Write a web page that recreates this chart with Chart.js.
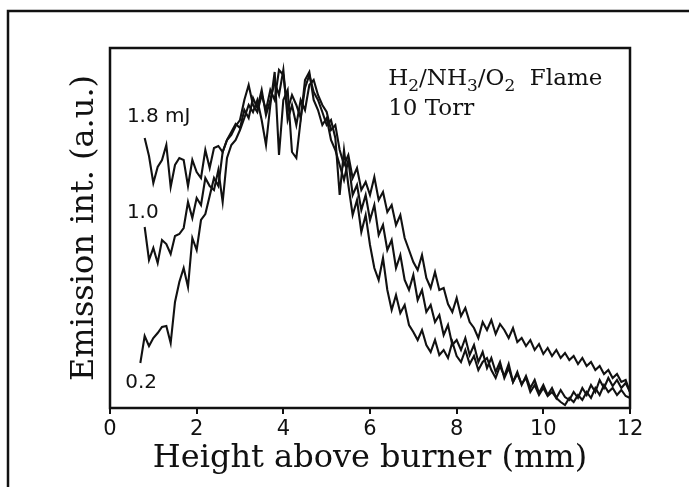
<!DOCTYPE html>
<html><head><meta charset="utf-8">
<script src="https://cdn.jsdelivr.net/npm/chart.js@4.4.1/dist/chart.umd.min.js"></script>
<style>html,body{margin:0;padding:0;background:#fff;} #wrap{width:689px;height:487px;}</style>
</head><body>
<div id="wrap"><canvas id="c" width="689" height="487"></canvas></div>
<script>
// ---- data (height in mm, emission in arbitrary units) ----
const heights = [
 0.7,0.8,0.9,1.0,1.1,1.2,1.3,1.4,1.5,1.6,
 1.7,1.8,1.9,2.0,2.1,2.2,2.3,2.4,2.5,2.6,
 2.7,2.8,2.9,3.0,3.1,3.2,3.3,3.4,3.5,3.6,
 3.7,3.8,3.9,4.0,4.1,4.2,4.3,4.4,4.5,4.6,
 4.7,4.8,4.9,5.0,5.1,5.2,5.3,5.4,5.5,5.6,
 5.7,5.8,5.9,6.0,6.1,6.2,6.3,6.4,6.5,6.6,
 6.7,6.8,6.9,7.0,7.1,7.2,7.3,7.4,7.5,7.6,
 7.7,7.8,7.9,8.0,8.1,8.2,8.3,8.4,8.5,8.6,
 8.7,8.8,8.9,9.0,9.1,9.2,9.3,9.4,9.5,9.6,
 9.7,9.8,9.9,10.0,10.1,10.2,10.3,10.4,10.5,10.6,
 10.7,10.8,10.9,11.0,11.1,11.2,11.3,11.4,11.5,11.6,
 11.7,11.8,11.9,12.0
];
const emission18 = [
 null,270,252,225,241,248,263,221,243,250,
 248,222,248,236,230,258,240,260,262,256,
 268,273,282,288,308,323,303,296,313,298,
 318,308,338,333,298,313,303,290,320,333,
 316,308,296,283,288,270,213,258,223,193,
 208,176,193,163,140,128,150,118,98,113,
 95,103,83,76,68,78,63,56,68,53,
 58,50,66,52,46,58,44,52,38,46,
 50,38,30,42,32,44,26,34,24,30,
 16,23,13,20,12,16,10,6,3,10,
 6,13,8,16,10,20,13,23,16,20,
 13,18,12,10
];
const emission10 = [
 null,181,148,160,145,168,164,154,172,174,
 180,206,190,210,203,230,222,218,238,206,
 250,263,268,278,290,303,296,308,288,263,
 303,336,253,308,318,256,250,288,328,336,
 308,298,283,290,268,258,243,228,248,213,
 223,198,213,188,203,173,183,158,168,140,
 153,128,118,133,108,118,96,103,86,93,
 73,83,63,68,58,70,53,63,46,56,
 40,50,36,46,30,40,26,36,23,32,
 20,28,15,23,13,20,10,18,11,8,
 16,10,20,13,23,16,28,20,30,22,
 28,20,25,16
];
const emission02 = [
 45,72,62,70,75,81,82,65,106,126,
 140,121,170,158,188,194,212,230,222,256,
 268,276,284,280,298,290,310,300,318,293,
 308,326,313,338,288,303,283,308,298,323,
 328,313,303,296,278,283,258,243,253,230,
 240,218,226,213,231,208,216,196,203,183,
 193,170,158,146,138,153,130,120,136,118,
 120,104,96,110,92,100,86,80,70,86,
 78,88,74,84,78,70,80,66,70,62,
 68,58,64,54,60,52,58,50,55,48,
 52,44,50,42,46,38,42,34,38,30,
 34,26,28,16
];
const energyLabels = ["1.8 mJ", "1.0", "0.2"];
const flameParts = [["H",0],["2",1],["/NH",0],["3",1],["/O",0],["2",1],["  Flame",0]];
const pressureText = "10 Torr";
const xTitle = "Height above burner (mm)";
const yTitle = "Emission int. (a.u.)";

// ---- drawing ----
const decor = {
  id: 'decor',
  beforeDraw(chart) {
    const ctx = chart.ctx;
    ctx.save();
    ctx.fillStyle = '#fff';
    ctx.fillRect(0, 0, chart.width, chart.height);
    ctx.strokeStyle = '#111';
    ctx.lineWidth = 2.5;
    ctx.beginPath();
    ctx.moveTo(8, chart.height);
    ctx.lineTo(8, 11);
    ctx.lineTo(chart.width, 11);
    ctx.stroke();
    ctx.restore();
  },
  afterDraw(chart, args, o) {
    const {ctx, chartArea: a, scales: {x, y}} = chart;
    ctx.save();
    ctx.strokeStyle = '#111';
    ctx.lineWidth = 2.5;
    ctx.strokeRect(a.left, a.top, a.right - a.left, a.bottom - a.top);
    ctx.fillStyle = '#111';
    ctx.textBaseline = 'alphabetic';
    ctx.textAlign = 'left';
    ctx.font = '20px "DejaVu Sans"';
    energyLabels.forEach((t, i) => {
      const p = o.labelAt[i];
      ctx.fillText(t, x.getPixelForValue(p[0]), y.getPixelForValue(p[1]));
    });
    // flame annotation with subscripts
    let px = x.getPixelForValue(o.flameAt[0]);
    const py = y.getPixelForValue(o.flameAt[1]);
    flameParts.forEach(([t, sub]) => {
      ctx.font = sub ? '17px "DejaVu Serif"' : '23px "DejaVu Serif"';
      ctx.fillText(t, px, py + (sub ? 6 : 0));
      px += ctx.measureText(t).width;
    });
    ctx.font = '23px "DejaVu Serif"';
    ctx.fillText(pressureText, x.getPixelForValue(o.torrAt[0]), y.getPixelForValue(o.torrAt[1]));
    ctx.restore();
  }
};

const lineStyle = {borderColor: '#111', borderWidth: 2.1, pointRadius: 0, tension: 0, fill: false, spanGaps: false};

new Chart(document.getElementById('c'), {
  type: 'line',
  data: {
    labels: heights,
    datasets: [
      Object.assign({label: energyLabels[0], data: emission18}, lineStyle),
      Object.assign({label: energyLabels[1], data: emission10}, lineStyle),
      Object.assign({label: energyLabels[2], data: emission02}, lineStyle)
    ]
  },
  options: {
    responsive: false,
    animation: false,
    devicePixelRatio: 1,
    layout: {padding: {top: 48, right: 59, left: 0, bottom: 0}},
    plugins: {
      legend: {display: false},
      tooltip: {enabled: false},
      decor: {
        labelAt: [[0.39, 286], [0.39, 190], [0.35, 20]],
        flameAt: [6.42, 323],
        torrAt: [6.42, 293]
      }
    },
    scales: {
      x: {
        type: 'linear', min: 0, max: 12,
        ticks: {stepSize: 2, color: '#111', font: {family: 'DejaVu Sans', size: 21}, padding: 3, maxRotation: 0},
        grid: {drawOnChartArea: false, drawTicks: true, tickLength: 6, color: '#111', lineWidth: 2},
        border: {display: false},
        title: {display: true, text: xTitle, color: '#111', font: {family: 'DejaVu Serif', size: 32, lineHeight: 1}, padding: {top: 12, bottom: 12}},
        afterFit(s) { s.height = 79; }
      },
      y: {
        type: 'linear', min: 0, max: 360,
        ticks: {display: false},
        grid: {display: false},
        border: {display: false},
        title: {display: true, text: yTitle, color: '#111', font: {family: 'DejaVu Serif', size: 32, lineHeight: 1}, padding: {top: 69, bottom: 69}},
        afterFit(s) { s.width = 110; }
      }
    }
  },
  plugins: [decor]
});
</script>
</body></html>
